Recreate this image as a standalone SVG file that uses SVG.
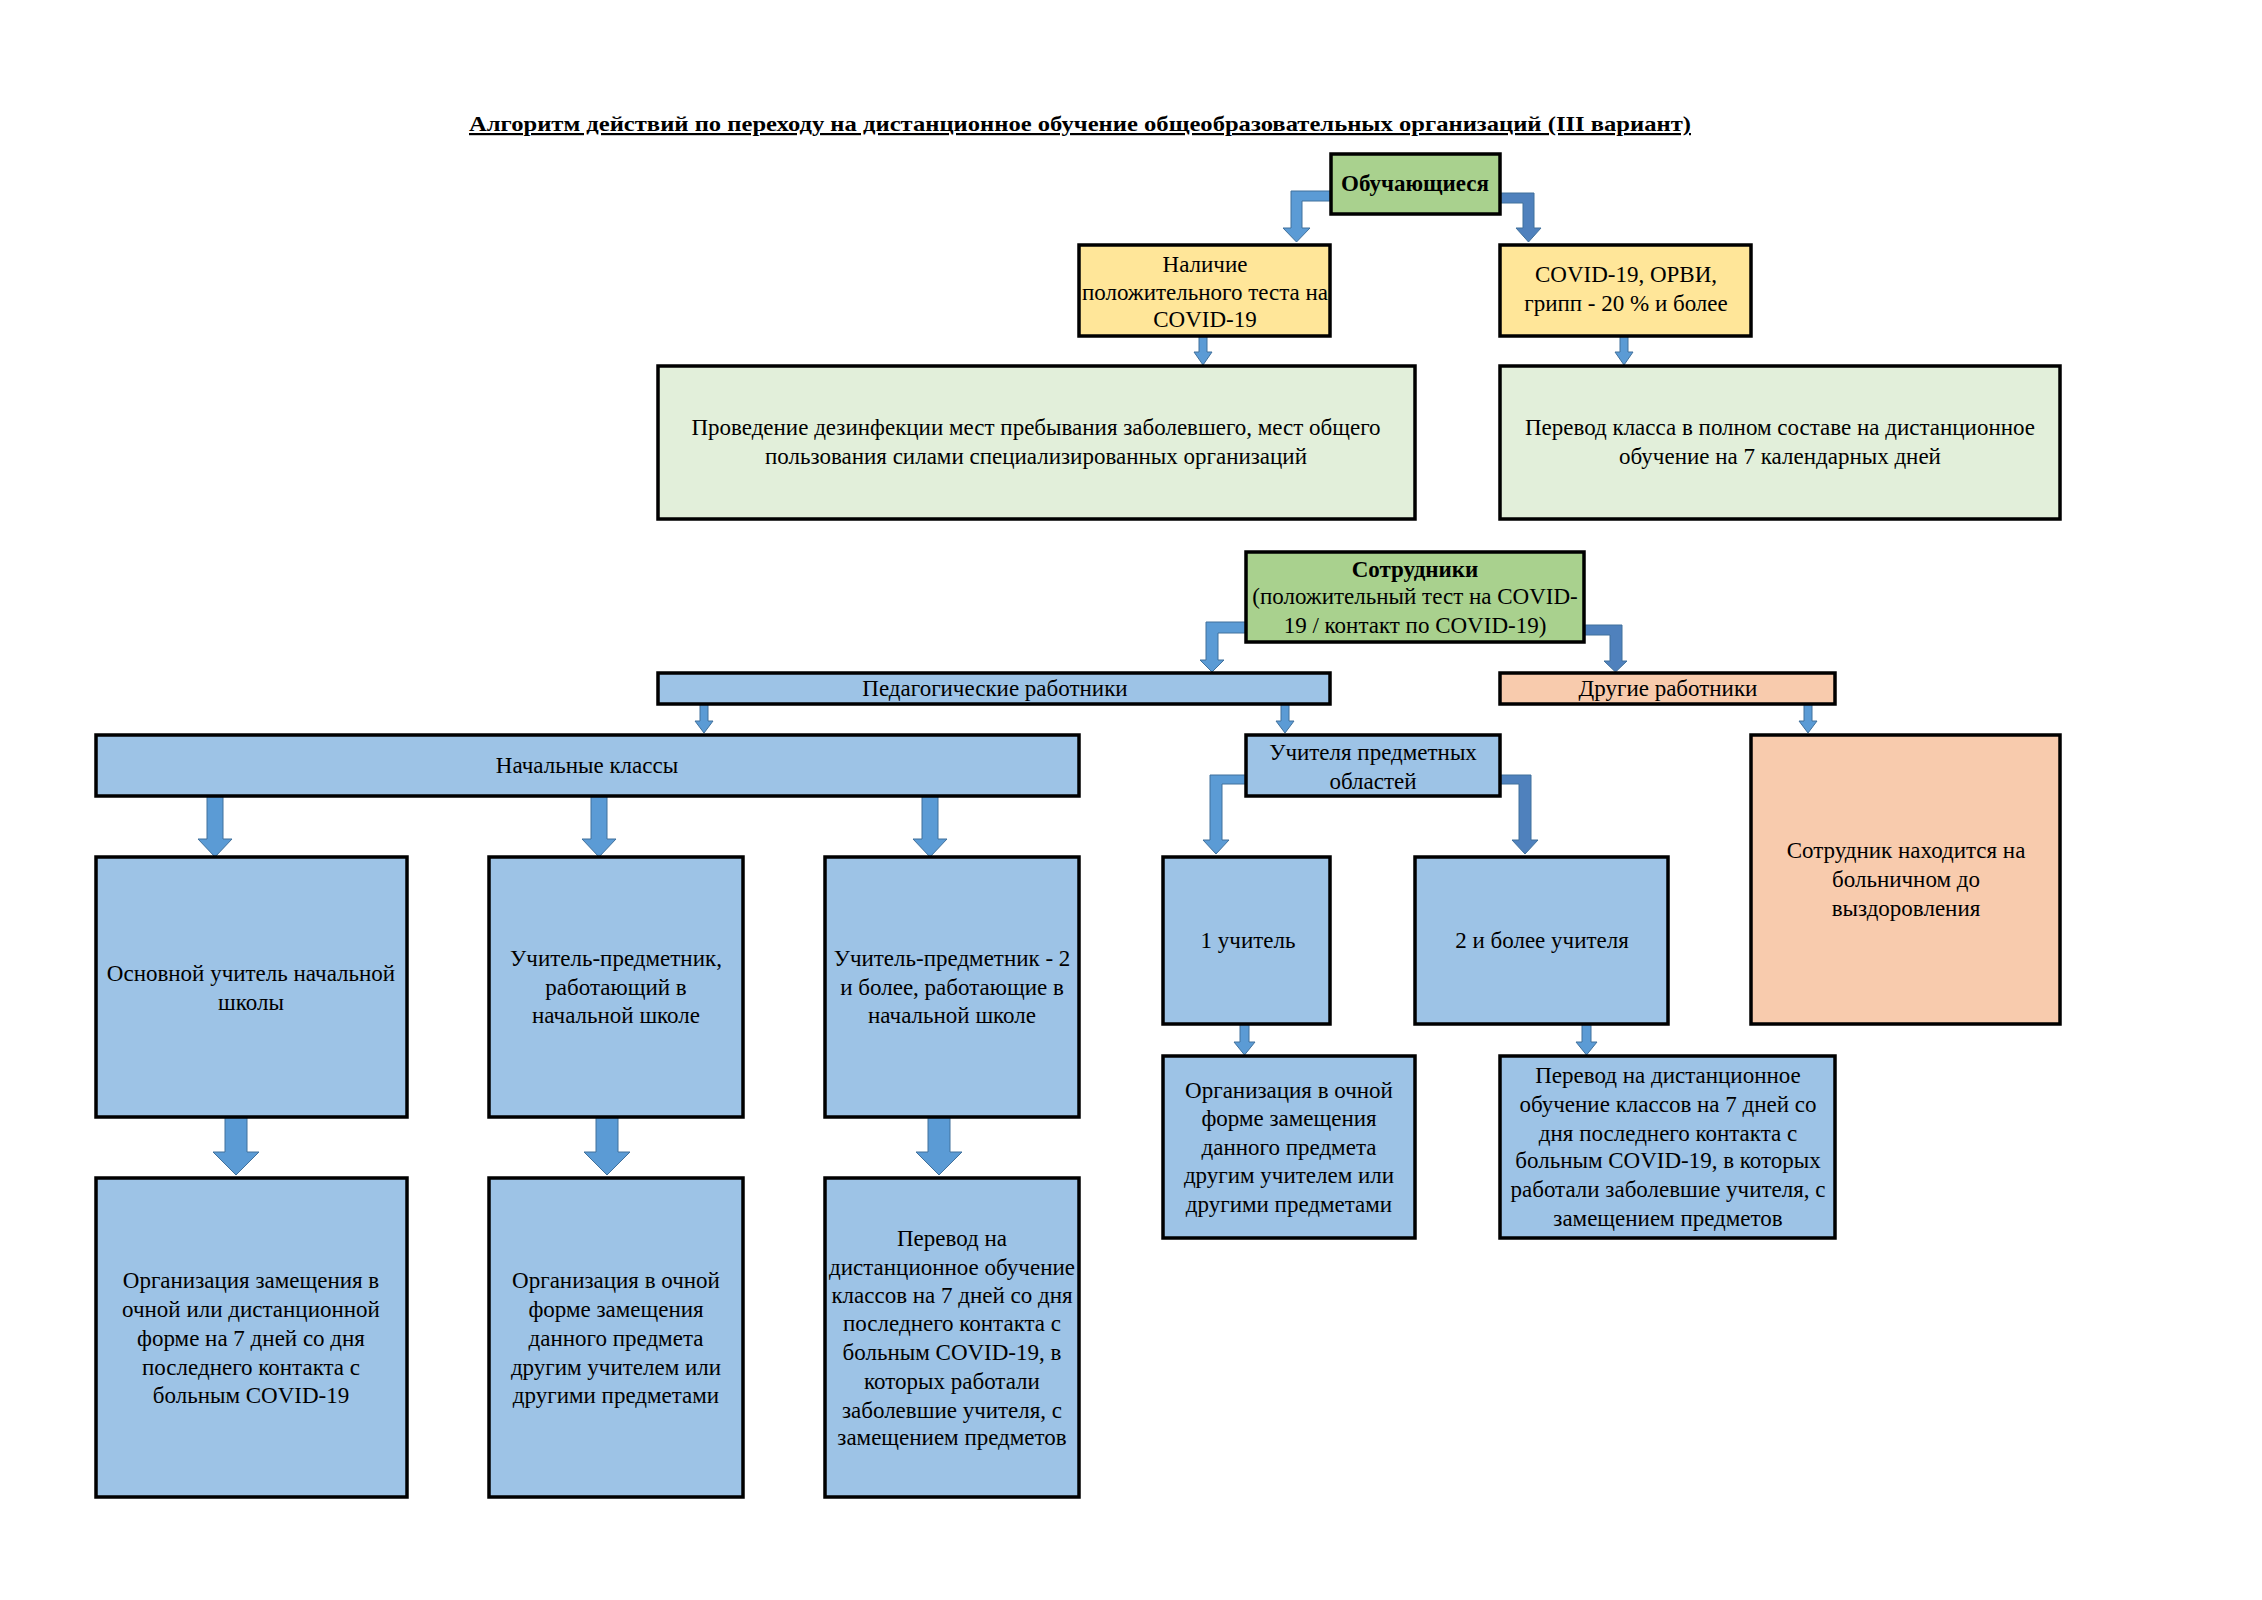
<svg xmlns="http://www.w3.org/2000/svg" width="2262" height="1600" viewBox="0 0 2262 1600">
<style>
  text { font-family: "Liberation Serif", "Times New Roman", serif; font-size: 23px; fill: #000; text-anchor: middle; }
  .b { font-weight: bold; }
  .title { font-weight: bold; font-size: 22px; text-anchor: start; text-decoration: underline; }
  .box { stroke: #000; stroke-width: 3.5; }
  .g { fill: #A9D18E; }
  .y { fill: #FFE699; }
  .lg { fill: #E2EFDA; }
  .bl { fill: #9DC3E6; }
  .pe { fill: #F8CBAD; }
  .arr { fill: #5B9BD5; stroke: #41719C; stroke-width: 1; }
  .arr2 { fill: #4F81BD; stroke: #41719C; stroke-width: 1; }
</style>
<rect width="2262" height="1600" fill="#fff"/>
<text class="title" x="469" y="131" textLength="1222" lengthAdjust="spacingAndGlyphs">Алгоритм действий по переходу на дистанционное обучение общеобразовательных организаций (III вариант)</text>

<g id="connectors">
  <path class="arr" d="M1330,191 L1291,191 L1291,228 L1283,228 L1296.5,242 L1310,228 L1302,228 L1302,201 L1330,201 Z"/>
  <path class="arr2" d="M1500,193 L1534,193 L1534,228 L1541,228 L1528.5,242 L1516,228 L1523,228 L1523,203 L1500,203 Z"/>
  <path class="arr" d="M1199,336 L1207,336 L1207,352 L1212,352 L1203,365 L1194,352 L1199,352 Z"/>
  <path class="arr" d="M1620,336 L1628,336 L1628,352 L1633,352 L1624,365 L1615,352 L1620,352 Z"/>
  <path class="arr" d="M1246,622 L1206,622 L1206,660 L1200,660 L1212,672 L1224,660 L1218,660 L1218,633 L1246,633 Z"/>
  <path class="arr2" d="M1584,625 L1622,625 L1622,661 L1627,661 L1615.5,672 L1604,661 L1610,661 L1610,635 L1584,635 Z"/>
  <path class="arr" d="M700,704 L708,704 L708,721 L713,721 L704,733 L695,721 L700,721 Z"/>
  <path class="arr" d="M1281,704 L1289,704 L1289,721 L1294,721 L1285,733 L1276,721 L1281,721 Z"/>
  <path class="arr" d="M1804,704 L1812,704 L1812,721 L1817,721 L1808,733 L1799,721 L1804,721 Z"/>
  <path class="arr" d="M1246,775 L1210,775 L1210,840 L1203,840 L1216,854 L1229,840 L1222,840 L1222,784 L1246,784 Z"/>
  <path class="arr2" d="M1500,775 L1531,775 L1531,840 L1538,840 L1525,854 L1512,840 L1519,840 L1519,784 L1500,784 Z"/>
  <path class="arr" d="M207,796 L223,796 L223,839 L232,839 L215,857 L198,839 L207,839 Z"/>
  <path class="arr" d="M591,796 L607,796 L607,839 L616,839 L599,857 L582,839 L591,839 Z"/>
  <path class="arr" d="M922,796 L938,796 L938,839 L947,839 L930,857 L913,839 L922,839 Z"/>
  <path class="arr" d="M225,1117 L247,1117 L247,1152 L259,1152 L236,1175 L213,1152 L225,1152 Z"/>
  <path class="arr" d="M596,1117 L618,1117 L618,1152 L630,1152 L607,1175 L584,1152 L596,1152 Z"/>
  <path class="arr" d="M928,1117 L950,1117 L950,1152 L962,1152 L939,1175 L916,1152 L928,1152 Z"/>
  <path class="arr" d="M1240,1024 L1249,1024 L1249,1042 L1255,1042 L1244.5,1055 L1234,1042 L1240,1042 Z"/>
  <path class="arr" d="M1582,1024 L1591,1024 L1591,1042 L1597,1042 L1586.5,1055 L1576,1042 L1582,1042 Z"/>
</g>

<g id="n-obuch">
  <rect class="box g" x="1331" y="154" width="169" height="60"/>
  <text class="b" x="1415" y="191">Обучающиеся</text>
</g>
<g id="n-test">
  <rect class="box y" x="1079" y="245" width="251" height="91"/>
  <text x="1205" y="272">Наличие</text>
  <text x="1205" y="300">положительного теста на</text>
  <text x="1205" y="327">COVID-19</text>
</g>
<g id="n-orvi">
  <rect class="box y" x="1500" y="245" width="251" height="91"/>
  <text x="1626" y="282">COVID-19, ОРВИ,</text>
  <text x="1626" y="311">грипп - 20 % и более</text>
</g>
<g id="n-dezinf">
  <rect class="box lg" x="658" y="366" width="757" height="153"/>
  <text x="1036" y="435">Проведение дезинфекции мест пребывания заболевшего, мест общего</text>
  <text x="1036" y="464">пользования силами специализированных организаций</text>
</g>
<g id="n-perevod-klass">
  <rect class="box lg" x="1500" y="366" width="560" height="153"/>
  <text x="1780" y="435">Перевод класса в полном составе на дистанционное</text>
  <text x="1780" y="464">обучение на 7 календарных дней</text>
</g>
<g id="n-sotr">
  <rect class="box g" x="1246" y="552" width="338" height="90"/>
  <text class="b" x="1415" y="577">Сотрудники</text>
  <text x="1415" y="604">(положительный тест на COVID-</text>
  <text x="1415" y="633">19 / контакт по COVID-19)</text>
</g>
<g id="n-ped">
  <rect class="box bl" x="658" y="673" width="672" height="31"/>
  <text x="995" y="696">Педагогические работники</text>
</g>
<g id="n-drugie">
  <rect class="box pe" x="1500" y="673" width="335" height="31"/>
  <text x="1668" y="696">Другие работники</text>
</g>
<g id="n-nach">
  <rect class="box bl" x="96" y="735" width="983" height="61"/>
  <text x="587" y="773">Начальные классы</text>
</g>
<g id="n-uchitelya">
  <rect class="box bl" x="1246" y="735" width="254" height="61"/>
  <text x="1373" y="760">Учителя предметных</text>
  <text x="1373" y="789">областей</text>
</g>
<g id="n-bolnichny">
  <rect class="box pe" x="1751" y="735" width="309" height="289"/>
  <text x="1906" y="858">Сотрудник находится на</text>
  <text x="1906" y="887">больничном до</text>
  <text x="1906" y="916">выздоровления</text>
</g>
<g id="n-osnovnoy">
  <rect class="box bl" x="96" y="857" width="311" height="260"/>
  <text x="251" y="981">Основной учитель начальной</text>
  <text x="251" y="1010">школы</text>
</g>
<g id="n-predmetnik">
  <rect class="box bl" x="489" y="857" width="254" height="260"/>
  <text x="616" y="966">Учитель-предметник,</text>
  <text x="616" y="995">работающий в</text>
  <text x="616" y="1023">начальной школе</text>
</g>
<g id="n-predmetnik2">
  <rect class="box bl" x="825" y="857" width="254" height="260"/>
  <text x="952" y="966">Учитель-предметник - 2</text>
  <text x="952" y="995">и более, работающие в</text>
  <text x="952" y="1023">начальной школе</text>
</g>
<g id="n-1uch">
  <rect class="box bl" x="1163" y="857" width="167" height="167"/>
  <text x="1248" y="948">1 учитель</text>
</g>
<g id="n-2uch">
  <rect class="box bl" x="1415" y="857" width="253" height="167"/>
  <text x="1542" y="948">2 и более учителя</text>
</g>
<g id="n-org-r">
  <rect class="box bl" x="1163" y="1056" width="252" height="182"/>
  <text x="1289" y="1098">Организация в очной</text>
  <text x="1289" y="1126">форме замещения</text>
  <text x="1289" y="1155">данного предмета</text>
  <text x="1289" y="1183">другим учителем или</text>
  <text x="1289" y="1212">другими предметами</text>
</g>
<g id="n-perevod-r">
  <rect class="box bl" x="1500" y="1056" width="335" height="182"/>
  <text x="1668" y="1083">Перевод на дистанционное</text>
  <text x="1668" y="1112">обучение классов на 7 дней со</text>
  <text x="1668" y="1141">дня последнего контакта с</text>
  <text x="1668" y="1168">больным COVID-19, в которых</text>
  <text x="1668" y="1197">работали заболевшие учителя, с</text>
  <text x="1668" y="1226">замещением предметов</text>
</g>
<g id="n-org-zam">
  <rect class="box bl" x="96" y="1178" width="311" height="319"/>
  <text x="251" y="1288">Организация замещения в</text>
  <text x="251" y="1317">очной или дистанционной</text>
  <text x="251" y="1346">форме на 7 дней со дня</text>
  <text x="251" y="1375">последнего контакта с</text>
  <text x="251" y="1403">больным COVID-19</text>
</g>
<g id="n-org-och">
  <rect class="box bl" x="489" y="1178" width="254" height="319"/>
  <text x="616" y="1288">Организация в очной</text>
  <text x="616" y="1317">форме замещения</text>
  <text x="616" y="1346">данного предмета</text>
  <text x="616" y="1375">другим учителем или</text>
  <text x="616" y="1403">другими предметами</text>
</g>
<g id="n-perevod-l">
  <rect class="box bl" x="825" y="1178" width="254" height="319"/>
  <text x="952" y="1246">Перевод на</text>
  <text x="952" y="1275">дистанционное обучение</text>
  <text x="952" y="1303">классов на 7 дней со дня</text>
  <text x="952" y="1331">последнего контакта с</text>
  <text x="952" y="1360">больным COVID-19, в</text>
  <text x="952" y="1389">которых работали</text>
  <text x="952" y="1418">заболевшие учителя, с</text>
  <text x="952" y="1445">замещением предметов</text>
</g>
</svg>
